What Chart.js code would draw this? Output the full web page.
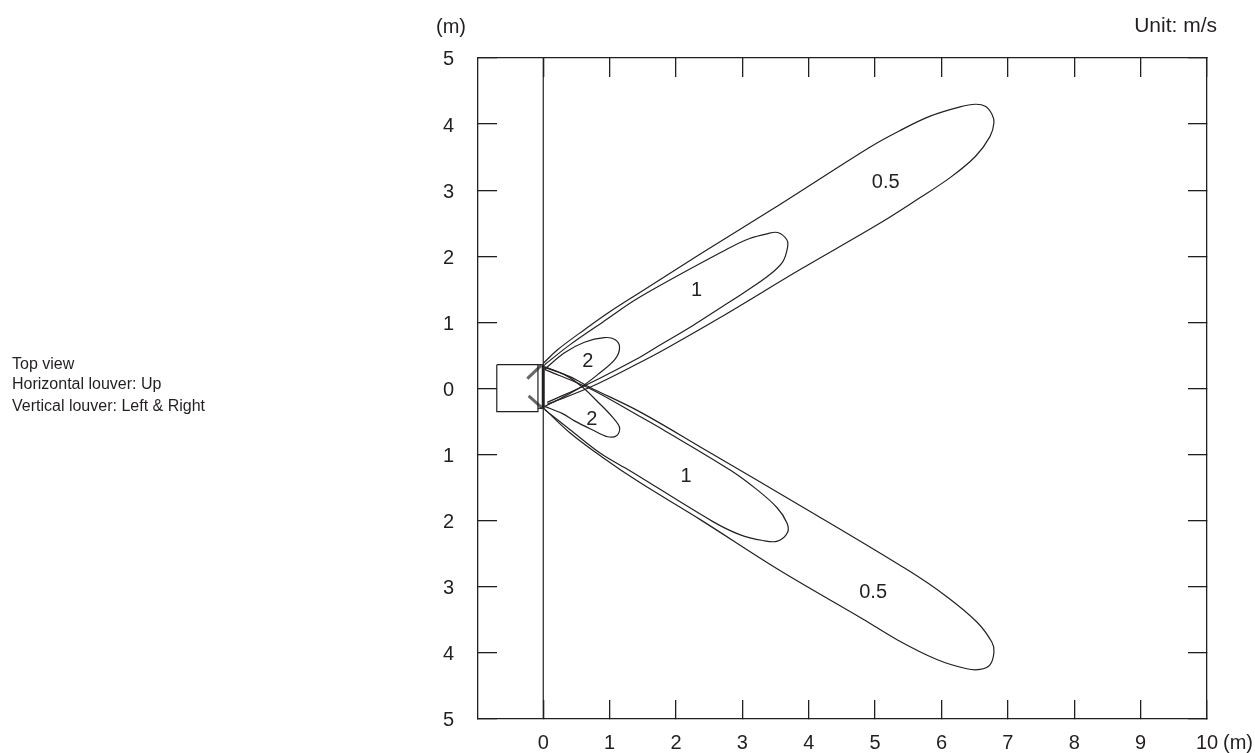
<!DOCTYPE html>
<html>
<head>
<meta charset="utf-8">
<title>Air velocity distribution</title>
<script src="https://cdn.jsdelivr.net/npm/chart.js"></script>
<style>
  html, body { margin: 0; padding: 0; background: #fff; }
  canvas { display: block; }
</style>
</head>
<body>
<canvas id="chart" width="1255" height="753"></canvas>
<script>
// --- Chart data (metres) ---
const xTicks = [0, 1, 2, 3, 4, 5, 6, 7, 8, 9, 10];
const yTicks = [-5, -4, -3, -2, -1, 0, 1, 2, 3, 4, 5];
const noteLines = ['Top view', 'Horizontal louver: Up', 'Vertical louver: Left & Right'];

const upper05 = [[0,0.38],[0.22,0.59],[0.62,0.89],[1.03,1.18],[1.45,1.45],[2.36,2.03],[3.56,2.78],[4.92,3.65],[5.37,3.90],[5.83,4.12],[6.28,4.26],[6.51,4.30],[6.66,4.27],[6.76,4.15],[6.79,4.02],[6.73,3.81],[6.51,3.51],[6.13,3.19],[5.68,2.89],[5.07,2.50],[3.87,1.80],[2.66,1.07],[1.86,0.61],[1.45,0.39],[0.73,0.03],[0.06,-0.24]];
const upper1 = [[0.02,0.36],[0.40,0.66],[0.89,1.00],[1.45,1.38],[2.81,2.13],[3.11,2.27],[3.37,2.34],[3.53,2.36],[3.67,2.25],[3.68,2.13],[3.61,1.92],[3.41,1.72],[3.01,1.44],[2.70,1.24],[2.25,0.95],[1.68,0.61],[1.45,0.47],[0.70,0.08],[0.06,-0.21]];
const upper2 = [[0.02,0.29],[0.32,0.54],[0.62,0.70],[0.92,0.77],[1.08,0.74],[1.15,0.62],[1.08,0.44],[0.82,0.21],[0.58,0.03],[0.28,-0.14],[0.02,-0.27]];
const lower2 = [[0.02,0.33],[0.32,0.21],[0.58,0.03],[0.82,-0.20],[1.05,-0.44],[1.15,-0.59],[1.11,-0.71],[0.97,-0.73],[0.73,-0.62],[0.47,-0.49],[0.29,-0.38],[0.02,-0.27]];
const lower1 = [[0.02,0.29],[0.70,0.00],[1.45,-0.42],[1.80,-0.62],[2.81,-1.23],[3.22,-1.53],[3.52,-1.80],[3.67,-2.03],[3.68,-2.18],[3.53,-2.31],[3.31,-2.30],[2.96,-2.21],[2.55,-2.01],[1.30,-1.24],[0.89,-1.00],[0.40,-0.62],[0.02,-0.32]];
const lower05 = [[0.02,0.32],[0.40,0.18],[0.70,0.02],[1.45,-0.35],[2.36,-0.88],[3.97,-1.83],[5.48,-2.74],[6.08,-3.15],[6.54,-3.54],[6.76,-3.84],[6.79,-3.99],[6.73,-4.18],[6.58,-4.25],[6.38,-4.24],[5.93,-4.10],[5.33,-3.80],[4.82,-3.49],[3.56,-2.75],[2.36,-1.98],[1.45,-1.42],[0.89,-1.04],[0.40,-0.67],[0,-0.29]];

// indoor unit outline and outlet
const unitBox = [[-0.70,0.36],[-0.08,0.36],[-0.08,-0.35],[-0.70,-0.35],[-0.70,0.36]];
const unitTopLink = [[-0.08,0.36],[0,0.36]];
const unitBottomLink = [[-0.08,-0.30],[0,-0.30]];
const outlet = [[0,0.36],[0,-0.30]];
const louverTop = [[-0.24,0.15],[-0.03,0.35]];
const louverBottom = [[-0.22,-0.11],[-0.01,-0.30]];
const centerLine = [[0,5],[0,-5]];

const contourLabels = ['0.5', '1', '2', '2', '1', '0.5'];
const contourLabelX = [5.16, 2.31, 0.67, 0.73, 2.15, 4.97];
const contourLabelY = [3.13, 1.50, 0.42, -0.45, -1.32, -3.07];

// --- Styles ---
const INK = '#231f20';
const FONT = '"Liberation Sans", Arial, sans-serif';
const toPoints = pairs => pairs.map(([x, y]) => ({ x, y }));

function lineSet(pairs, width = 1.2, tension = 0, color = INK) {
    return {
        data: toPoints(pairs),
        xAxisID: 'x',
        yAxisID: 'y',
        showLine: true,
        borderColor: color,
        borderWidth: width,
        pointRadius: 0,
        tension,
        fill: false
    };
}

// Fixed axis sizes so the plot frame lands where the original has it.
// The label padding has to go too, otherwise the layout shrinks the plot for it.
function fixSize(prop, size) {
    return scale => {
        scale[prop] = size;
        scale.paddingTop = scale.paddingBottom = scale.paddingLeft = scale.paddingRight = 0;
    };
}
const useTicks = values => scale => { scale.ticks = values.map(value => ({ value })); };

function axis(extra) {
    return Object.assign({
        type: 'linear',
        border: { display: true, color: INK, width: 1.3 },
        grid: { drawOnChartArea: false, drawTicks: true, tickLength: -19, color: INK, lineWidth: 1.3 }
    }, extra);
}

const xRange = { min: -0.983, max: 10 };
const yRange = { min: -5, max: 5 };
// label-only axis, nudged so the digits sit 2px lower than the tick marks as in the original
const yLabelRange = { min: -4.97, max: 5.03 };

// contour values and the loose captions round the plot
const textPlugin = {
    id: 'chartText',
    afterDraw(chart) {
        const { ctx, scales } = chart;
        ctx.save();
        ctx.fillStyle = INK;
        ctx.textBaseline = 'middle';

        ctx.font = `20px ${FONT}`;
        ctx.textAlign = 'center';
        contourLabels.forEach((label, i) => {
            ctx.fillText(label, scales.x.getPixelForValue(contourLabelX[i]), scales.y.getPixelForValue(contourLabelY[i]) + 1);
        });
        ctx.fillText('(m)', 451, 27);
        ctx.fillText('(m)', 1238, 743);
        ctx.textAlign = 'right';
        ctx.font = `21px ${FONT}`;
        ctx.fillText('Unit: m/s', 1217, 26);

        ctx.font = `16px ${FONT}`;
        ctx.textAlign = 'left';
        ctx.fillText(noteLines[0], 12, 365);
        ctx.fillText(noteLines[1], 12, 385);
        ctx.fillText(noteLines[2], 12, 407);
        ctx.restore();
    }
};

new Chart(document.getElementById('chart').getContext('2d'), {
    type: 'scatter',
    data: {
        datasets: [
            lineSet(centerLine),
            lineSet(unitBox),
            lineSet(unitTopLink),
            lineSet(unitBottomLink),
            lineSet(upper05, 1.2, 0.35),
            lineSet(upper1, 1.2, 0.35),
            lineSet(upper2, 1.2, 0.35),
            lineSet(lower2, 1.2, 0.35),
            lineSet(lower1, 1.2, 0.35),
            lineSet(lower05, 1.2, 0.35),
            lineSet(outlet, 3),
            lineSet(louverTop, 3, 0, '#666'),
            lineSet(louverBottom, 3, 0, '#666')
        ]
    },
    options: {
        responsive: false,
        animation: false,
        plugins: { legend: { display: false }, tooltip: { enabled: false } },
        layout: { padding: 0 },
        scales: {
            // xLabel and yLabel carry the digits; x and y hold the data and the inward tick marks
            xLabel: axis({
                ...xRange,
                position: 'bottom',
                weight: 1,
                afterBuildTicks: useTicks(xTicks),
                afterFit: fixSize('height', 34),
                border: { display: false },
                grid: { drawOnChartArea: false, drawTicks: false },
                ticks: { padding: 12, color: INK, font: { family: FONT, size: 20 }, maxRotation: 0, autoSkip: false }
            }),
            x: axis({
                ...xRange,
                position: 'bottom',
                weight: 0,
                afterBuildTicks: useTicks(xTicks),
                afterFit: fixSize('height', 0),
                ticks: { display: false }
            }),
            xTop: axis({
                ...xRange,
                position: 'top',
                afterBuildTicks: useTicks(xTicks),
                afterFit: fixSize('height', 58),
                ticks: { display: false }
            }),
            yLabel: axis({
                ...yLabelRange,
                position: 'left',
                weight: 1,
                afterBuildTicks: useTicks(yTicks),
                afterFit: fixSize('width', 478),
                border: { display: false },
                grid: { drawOnChartArea: false, drawTicks: false },
                ticks: { padding: 24, color: INK, font: { family: FONT, size: 20 }, autoSkip: false, callback: value => Math.abs(value) }
            }),
            y: axis({
                ...yRange,
                position: 'left',
                weight: 0,
                afterBuildTicks: useTicks(yTicks),
                afterFit: fixSize('width', 0),
                ticks: { display: false }
            }),
            yRight: axis({
                ...yRange,
                position: 'right',
                afterBuildTicks: useTicks(yTicks),
                afterFit: fixSize('width', 48),
                ticks: { display: false }
            })
        }
    },
    plugins: [textPlugin]
});
</script>
</body>
</html>
